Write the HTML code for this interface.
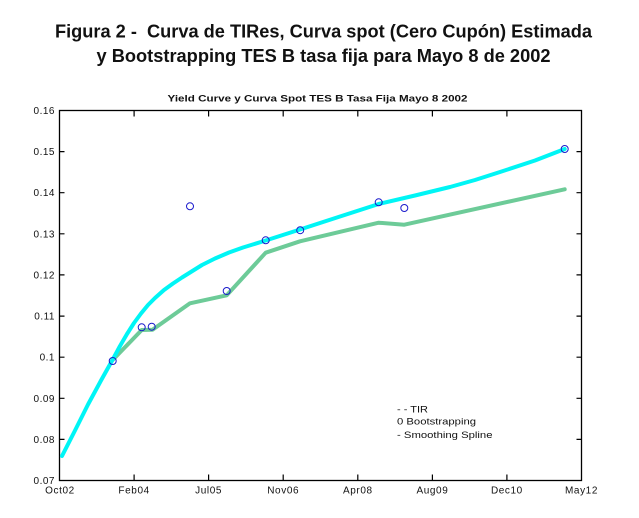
<!DOCTYPE html>
<html><head><meta charset="utf-8"><style>
html,body{margin:0;padding:0;background:#fff;}
svg{display:block;}
text{font-family:"Liberation Sans",Arial,sans-serif;fill:#111;}
</style></head><body>
<svg width="639" height="518" viewBox="0 0 639 518" xmlns="http://www.w3.org/2000/svg">
<rect width="639" height="518" fill="#fff"/>
<text x="55" y="37.5" font-size="18" font-weight="bold" textLength="537" lengthAdjust="spacingAndGlyphs" xml:space="preserve">Figura 2 -  Curva de TIRes, Curva spot (Cero Cupón) Estimada</text>
<text x="96.5" y="61.8" font-size="18" font-weight="bold" textLength="454" lengthAdjust="spacingAndGlyphs">y Bootstrapping TES B tasa fija para Mayo 8 de 2002</text>
<text x="167.5" y="101.7" font-size="9.5" font-weight="bold" textLength="300" lengthAdjust="spacingAndGlyphs">Yield Curve y Curva Spot TES B Tasa Fija Mayo 8 2002</text>

<!-- axes box -->
<rect x="59.5" y="110.5" width="522" height="370" fill="none" stroke="#000" stroke-width="1.3"/>
<g stroke="#000" stroke-width="1.2">
<path d="M59.5 151.6h5M59.5 192.7h5M59.5 233.8h5M59.5 274.9h5M59.5 316.1h5M59.5 357.2h5M59.5 398.3h5M59.5 439.4h5"/>
<path d="M581.5 151.6h-5M581.5 192.7h-5M581.5 233.8h-5M581.5 274.9h-5M581.5 316.1h-5M581.5 357.2h-5M581.5 398.3h-5M581.5 439.4h-5"/>
<path d="M134.1 480.5v-6M208.6 480.5v-6M283.2 480.5v-6M357.8 480.5v-6M432.4 480.5v-6M506.9 480.5v-6"/>
<path d="M134.1 110.5v6M208.6 110.5v6M283.2 110.5v6M357.8 110.5v6M432.4 110.5v6M506.9 110.5v6"/>
</g>
<g font-size="10" text-anchor="end" letter-spacing="0.5">
<text x="55" y="114">0.16</text>
<text x="55" y="155.1">0.15</text>
<text x="55" y="196.2">0.14</text>
<text x="55" y="237.3">0.13</text>
<text x="55" y="278.4">0.12</text>
<text x="55" y="319.6">0.11</text>
<text x="55" y="360.7">0.1</text>
<text x="55" y="401.8">0.09</text>
<text x="55" y="442.9">0.08</text>
<text x="55" y="484">0.07</text>
</g>
<g font-size="10" text-anchor="middle" letter-spacing="0.6">
<text x="60" y="493.5">Oct02</text>
<text x="134.1" y="493.5">Feb04</text>
<text x="208.6" y="493.5">Jul05</text>
<text x="283.2" y="493.5">Nov06</text>
<text x="357.8" y="493.5">Apr08</text>
<text x="432.4" y="493.5">Aug09</text>
<text x="506.9" y="493.5">Dec10</text>
<text x="581.5" y="493.5">May12</text>
</g>

<!-- bootstrapping green line -->
<polyline fill="none" stroke="#6dcb98" stroke-width="4" stroke-linejoin="round" stroke-linecap="round"
 points="112.7,360 141.7,330 152.5,329.8 190,303.3 226.7,295.3 265.7,252.7 300,241.3 378.7,222.7 404.3,224.7 564.7,189.3"/>
<!-- smoothing spline cyan line -->
<polyline fill="none" stroke="#00f5f5" stroke-width="4" stroke-linejoin="round" stroke-linecap="round"
 points="62,456 75,430.5 88,404.5 101,380.5 113,359 120,346 127,334 134,323 141,313.5 148,305 155,298 164,290 173,283.5 182,277.5 190,272.5 202,265 215,258.5 229,252.5 243,247.5 265.7,240.5 300,229.5 340,216.5 378.7,204 415,195.5 450,187 475,180 500,172 535,160.5 564.7,149"/>

<!-- TIR circles -->
<g fill="none" stroke="#1a1acc" stroke-width="1">
<circle cx="112.7" cy="361" r="3.5"/>
<circle cx="141.7" cy="327.3" r="3.5"/>
<circle cx="151.7" cy="326.7" r="3.5"/>
<circle cx="190" cy="206.3" r="3.5"/>
<circle cx="226.7" cy="291" r="3.5"/>
<circle cx="265.7" cy="240.3" r="3.5"/>
<circle cx="300.2" cy="230.2" r="3.5"/>
<circle cx="378.7" cy="202.3" r="3.5"/>
<circle cx="404.3" cy="208" r="3.5"/>
<circle cx="564.7" cy="149" r="3.5"/>
</g>

<!-- legend -->
<g font-size="9">
<text x="397" y="412.7" textLength="31" lengthAdjust="spacingAndGlyphs" xml:space="preserve">- - TIR</text>
<text x="397" y="424.3" textLength="79" lengthAdjust="spacingAndGlyphs">0 Bootstrapping</text>
<text x="397" y="437.8" textLength="95.5" lengthAdjust="spacingAndGlyphs">- Smoothing Spline</text>
</g>
</svg>
</body></html>
